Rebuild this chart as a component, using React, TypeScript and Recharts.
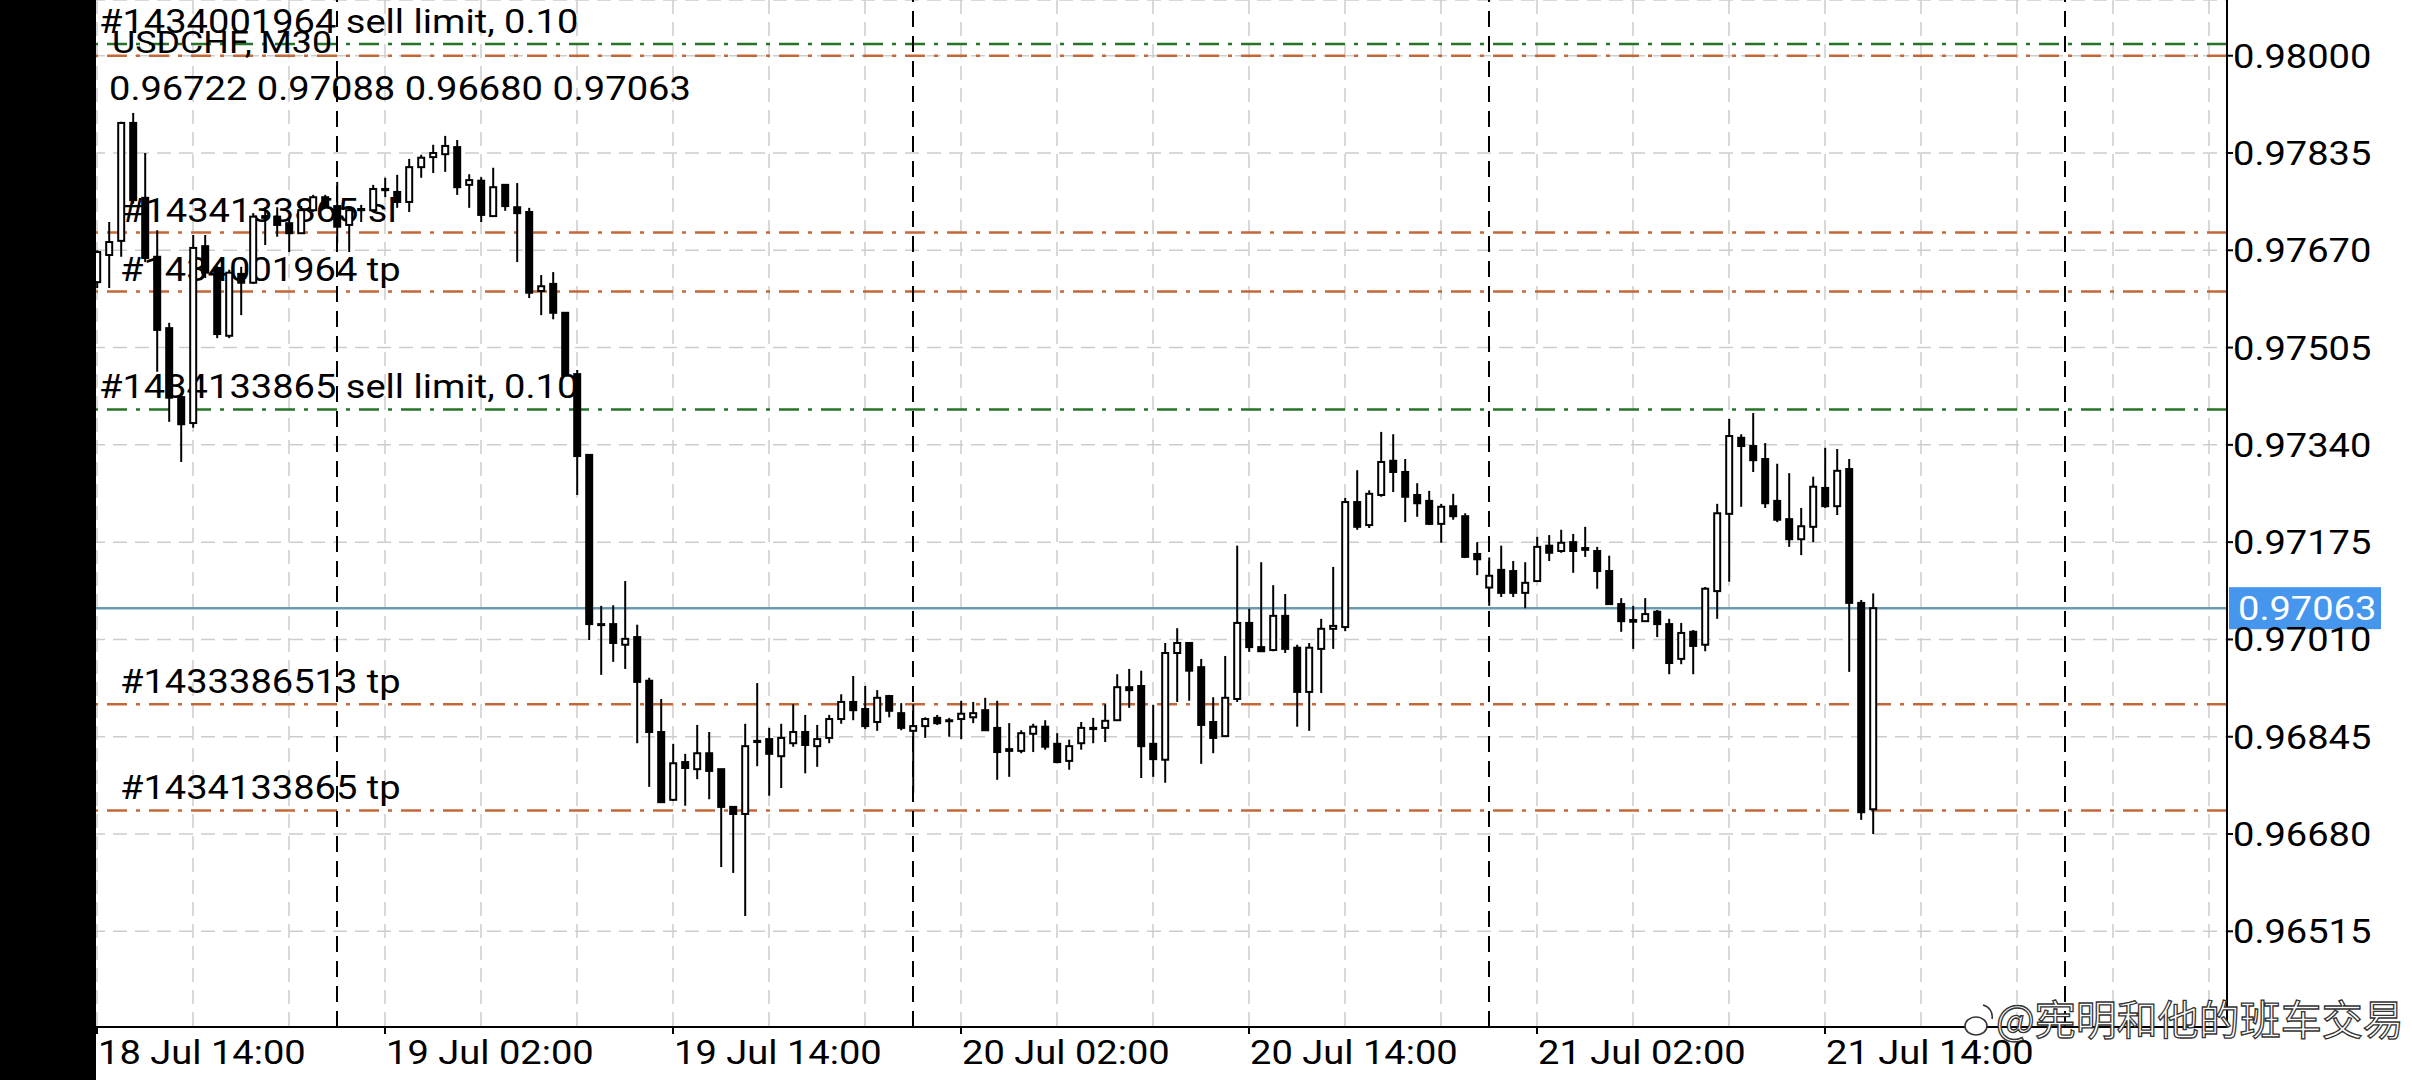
import React from "react";
import { Bar, CartesianGrid, ComposedChart, ReferenceLine, XAxis, YAxis } from "recharts";

const W = 2412;
const H = 1080;
const PLOT_LEFT = 91; // first bar sits half under the black strip
const Y_AXIS_W = 185;
const X_AXIS_H = 53;
const AXIS_Y = H - X_AXIS_H;
const SLOTS = 178; // bars + empty chart shift on the right

const FONT = "Roboto, 'Noto Sans', sans-serif";
const FONT_SIZE = 34;
const STRETCH = 1.12;
const GREEN = "#277327";
const ORANGE = "#c4683a";
const PRICE_BLUE = "#6a9bb3";
const TAG_BLUE = "#4696ee";

// USDCHF M30, first bar = 18 Jul 14:00
const opens = [
  0.97616, 0.97662, 0.97686, 0.97886, 0.97759, 0.97659, 0.97538, 0.97421, 0.97377, 0.97677,
  0.9764, 0.97525, 0.9763, 0.97615, 0.97725, 0.97727, 0.97716, 0.97699, 0.97738, 0.9776,
  0.97745, 0.97713, 0.9774, 0.97738, 0.97772, 0.97769, 0.97752, 0.97811, 0.97828, 0.97833,
  0.97845, 0.97781, 0.97788, 0.97728, 0.97781, 0.97743, 0.97735, 0.97601, 0.97613, 0.97564,
  0.9746, 0.97323, 0.97036, 0.97036, 0.97001, 0.97014, 0.9694, 0.96853, 0.96738, 0.96802,
  0.9679, 0.96817, 0.9679, 0.96726, 0.96714, 0.96838, 0.96841, 0.96812, 0.96834, 0.96853,
  0.96829, 0.96843, 0.96875, 0.96904, 0.96892, 0.9687, 0.96914, 0.96885, 0.96855, 0.96863,
  0.96877, 0.96873, 0.96875, 0.96878, 0.9689, 0.9686, 0.96824, 0.96821, 0.9685, 0.96862,
  0.96833, 0.96804, 0.96834, 0.9686, 0.9686, 0.96873, 0.96929, 0.96931, 0.96833, 0.96806,
  0.96987, 0.97004, 0.96963, 0.9687, 0.96846, 0.96909, 0.97038, 0.96997, 0.96992, 0.9705,
  0.96996, 0.96921, 0.96994, 0.97028, 0.97031, 0.97243, 0.97204, 0.97255, 0.97313, 0.97294,
  0.97255, 0.97245, 0.97206, 0.97236, 0.97219, 0.97155, 0.97098, 0.97128, 0.97126, 0.97089,
  0.97109, 0.97169, 0.9716, 0.97175, 0.97165, 0.9716, 0.97126, 0.9707, 0.97043, 0.97041,
  0.97057, 0.97036, 0.96977, 0.97023, 0.97001, 0.97092, 0.97223, 0.97352, 0.97338, 0.97316,
  0.97245, 0.97214, 0.9718, 0.97201, 0.97267, 0.97236, 0.97299, 0.97072, 0.96722,
];
const highs = [
  0.9767, 0.97718, 0.97888, 0.97903, 0.97835, 0.97704, 0.97547, 0.97428, 0.97696, 0.97696,
  0.97643, 0.97637, 0.97642, 0.97733, 0.97743, 0.97743, 0.97723, 0.97745, 0.97764, 0.97764,
  0.97786, 0.97745, 0.97747, 0.97781, 0.97793, 0.97798, 0.97825, 0.97832, 0.97849, 0.97864,
  0.97857, 0.97799, 0.97794, 0.9781, 0.97782, 0.97784, 0.97742, 0.97628, 0.97633, 0.97565,
  0.97467, 0.97323, 0.97067, 0.97068, 0.97109, 0.97035, 0.96945, 0.96909, 0.96833, 0.96816,
  0.96865, 0.96853, 0.9679, 0.96726, 0.96867, 0.96936, 0.9686, 0.96867, 0.969, 0.96882,
  0.96865, 0.96882, 0.96917, 0.96948, 0.96931, 0.96924, 0.96916, 0.96902, 0.969, 0.96878,
  0.96882, 0.96877, 0.96906, 0.96904, 0.96911, 0.96906, 0.96868, 0.96856, 0.96867, 0.96873,
  0.96851, 0.9684, 0.9687, 0.96877, 0.969, 0.96951, 0.9696, 0.96957, 0.96899, 0.97004,
  0.97029, 0.97004, 0.96977, 0.96912, 0.96982, 0.97169, 0.97062, 0.97141, 0.97102, 0.97087,
  0.97001, 0.97004, 0.97045, 0.97133, 0.9725, 0.97297, 0.97263, 0.97362, 0.97358, 0.97316,
  0.97275, 0.97262, 0.9724, 0.97257, 0.97224, 0.97175, 0.97149, 0.97169, 0.97143, 0.97141,
  0.97184, 0.97187, 0.97196, 0.97189, 0.97201, 0.97167, 0.97152, 0.9708, 0.97067, 0.9708,
  0.9706, 0.97045, 0.97038, 0.97026, 0.97099, 0.9724, 0.97384, 0.97358, 0.97394, 0.97343,
  0.97308, 0.97292, 0.97233, 0.97286, 0.97335, 0.97333, 0.97316, 0.97077, 0.97088,
];
const lows = [
  0.97606, 0.97606, 0.97659, 0.97749, 0.9765, 0.97464, 0.97379, 0.97311, 0.97369, 0.97623,
  0.97521, 0.97521, 0.9756, 0.97613, 0.97679, 0.97693, 0.97667, 0.97698, 0.97735, 0.97742,
  0.97682, 0.97667, 0.97718, 0.97735, 0.9776, 0.97742, 0.97735, 0.97793, 0.97801, 0.97803,
  0.97764, 0.97742, 0.97718, 0.97727, 0.97737, 0.9765, 0.97589, 0.9756, 0.97553, 0.97457,
  0.97255, 0.97009, 0.9695, 0.96972, 0.9696, 0.96834, 0.9676, 0.96733, 0.96736, 0.96728,
  0.96773, 0.96739, 0.96624, 0.96614, 0.96541, 0.96795, 0.96745, 0.96758, 0.96828, 0.96783,
  0.96794, 0.96834, 0.96867, 0.96873, 0.96858, 0.96855, 0.96878, 0.96856, 0.9675, 0.96843,
  0.96865, 0.96845, 0.96841, 0.96868, 0.96855, 0.96772, 0.96777, 0.96817, 0.96819, 0.96823,
  0.968, 0.96789, 0.96823, 0.96834, 0.96836, 0.96872, 0.96894, 0.96775, 0.96777, 0.96767,
  0.96904, 0.96906, 0.96799, 0.96817, 0.96845, 0.96904, 0.96989, 0.96989, 0.9699, 0.96987,
  0.96862, 0.96855, 0.96919, 0.96994, 0.97024, 0.97196, 0.97199, 0.97252, 0.9726, 0.97209,
  0.97218, 0.97204, 0.97174, 0.97213, 0.97148, 0.97119, 0.97067, 0.97082, 0.97082, 0.97063,
  0.97108, 0.97143, 0.97157, 0.97123, 0.9715, 0.97096, 0.9707, 0.97023, 0.96994, 0.9704,
  0.97014, 0.96951, 0.96968, 0.96951, 0.9699, 0.97045, 0.97108, 0.97235, 0.97294, 0.97233,
  0.97209, 0.97167, 0.97153, 0.97175, 0.97233, 0.97221, 0.96955, 0.96704, 0.9668,
];
const closes = [
  0.97667, 0.97684, 0.97886, 0.97755, 0.97657, 0.97535, 0.9742, 0.97375, 0.97674, 0.97632,
  0.97528, 0.97632, 0.97615, 0.97727, 0.97728, 0.97713, 0.97699, 0.97738, 0.9776, 0.97743,
  0.9771, 0.97738, 0.97738, 0.97774, 0.97774, 0.97752, 0.97811, 0.97827, 0.97835, 0.97847,
  0.97777, 0.97789, 0.9773, 0.97777, 0.97745, 0.97733, 0.97598, 0.97609, 0.97564, 0.97458,
  0.97321, 0.97036, 0.97035, 0.97004, 0.97011, 0.96938, 0.96853, 0.96734, 0.968, 0.96792,
  0.96817, 0.96787, 0.96726, 0.96714, 0.96829, 0.96836, 0.96816, 0.96843, 0.96853, 0.96831,
  0.96841, 0.96875, 0.96904, 0.9689, 0.96863, 0.96911, 0.96889, 0.9686, 0.96863, 0.96875,
  0.96868, 0.96872, 0.96884, 0.96885, 0.96856, 0.96819, 0.96821, 0.96851, 0.96862, 0.96828,
  0.96802, 0.96829, 0.9686, 0.96858, 0.96872, 0.96929, 0.96924, 0.96829, 0.96807, 0.96987,
  0.97004, 0.96957, 0.96865, 0.96843, 0.96911, 0.97038, 0.96997, 0.9699, 0.9705, 0.96994,
  0.96921, 0.96996, 0.97028, 0.97033, 0.97243, 0.97201, 0.97257, 0.97311, 0.97294, 0.97252,
  0.97241, 0.97206, 0.97235, 0.97219, 0.9715, 0.97146, 0.97118, 0.97089, 0.97089, 0.97106,
  0.97167, 0.97157, 0.97174, 0.9716, 0.97162, 0.97126, 0.9707, 0.97041, 0.9704, 0.97053,
  0.97036, 0.9697, 0.97021, 0.96999, 0.97096, 0.97224, 0.97355, 0.97338, 0.97314, 0.97241,
  0.97213, 0.9718, 0.97202, 0.97269, 0.97236, 0.97296, 0.97072, 0.96717, 0.97063,
];

const priceDomain = [0.963527, 0.980945];
const priceTicks = [0.98, 0.97835, 0.9767, 0.97505, 0.9734, 0.97175, 0.9701, 0.96845, 0.9668, 0.96515];
const timeTickBars = [0, 24, 48, 72, 96, 120, 144];
const timeTickLabels = [
  "18 Jul 14:00",
  "19 Jul 02:00",
  "19 Jul 14:00",
  "20 Jul 02:00",
  "20 Jul 14:00",
  "21 Jul 02:00",
  "21 Jul 14:00",
];
const gridBars = [0, 8, 16, 24, 32, 40, 48, 56, 64, 72, 80, 88, 96, 104, 112, 120, 128, 136, 144, 152, 160, 168, 176];
const daySeparatorBars = [20, 68, 116, 164];

const orderLines = [
  { price: 0.9802, color: GREEN, text: "#1434001964 sell limit, 0.10", dx: 8 },
  { price: 0.98, color: ORANGE, text: "", dx: 0 },
  { price: 0.977, color: ORANGE, text: "#1434133865 sl", dx: 30 },
  { price: 0.976, color: ORANGE, text: "#1434001964 tp", dx: 29 },
  { price: 0.974, color: GREEN, text: "#1434133865 sell limit, 0.10", dx: 8 },
  { price: 0.969, color: ORANGE, text: "#1433386513 tp", dx: 29 },
  { price: 0.9672, color: ORANGE, text: "#1434133865 tp", dx: 29 },
];
const lastPrice = 0.97063;
const symbolLabel = "USDCHF, M30";
const ohlcLabel = "0.96722 0.97088 0.96680 0.97063";
const watermark = "@宪明和他的班车交易";

const rows = Array.from({ length: SLOTS }, (_, k) =>
  k < opens.length
    ? { k, range: [lows[k], highs[k]], o: opens[k], h: highs[k], l: lows[k], c: closes[k] }
    : { k, range: null }
);

function SText({ x, y, size = FONT_SIZE, fill = "#000", children }: any) {
  return (
    <text
      transform={`translate(${x} ${y}) scale(${STRETCH} 1)`}
      fontFamily={FONT}
      fontSize={size}
      fill={fill}
    >
      {children}
    </text>
  );
}

function Candle(props: any) {
  const { x, y, width, height, payload } = props;
  if (!payload || payload.o == null) return <g />;
  const { o, h, l, c } = payload;
  const cx = x + width / 2;
  const k = h > l ? height / (h - l) : 0;
  const py = (v: number) => y + (h - v) * k;
  const top = py(Math.max(o, c));
  const bot = py(Math.min(o, c));
  const up = c > o;
  return (
    <g>
      <line x1={cx} x2={cx} y1={y} y2={y + height} stroke="#000" strokeWidth={2} />
      {up ? (
        <rect x={cx - 3} y={top} width={6} height={Math.max(bot - top, 1)} fill="#fff" stroke="#000" strokeWidth={2} />
      ) : (
        <rect x={cx - 4} y={top - 1} width={8} height={Math.max(bot - top, 1) + 2} fill="#000" />
      )}
    </g>
  );
}

function TimeTick(props: any) {
  const { x, payload } = props;
  const i = timeTickBars.indexOf(Number(payload.value));
  if (i < 0) return <g />;
  return (
    <g>
      <line x1={x} x2={x} y1={AXIS_Y} y2={AXIS_Y + 7} stroke="#000" strokeWidth={2} />
      <SText x={x + 1} y={AXIS_Y + 37}>
        {timeTickLabels[i]}
      </SText>
    </g>
  );
}

function PriceTick(props: any) {
  const { x, y, payload } = props;
  return (
    <SText x={x} y={y + 12}>
      {Number(payload.value).toFixed(5)}
    </SText>
  );
}

function OrderLabel({ viewBox, text, dx }: any) {
  if (!viewBox || !text) return <g />;
  return (
    <SText x={viewBox.x + dx} y={viewBox.y - 11}>
      {text}
    </SText>
  );
}

function PriceTag({ viewBox }: any) {
  if (!viewBox) return <g />;
  const right = viewBox.x + viewBox.width;
  return (
    <g>
      <rect x={right + 2} y={viewBox.y - 21} width={152} height={42} fill={TAG_BLUE} />
      <SText x={right + 11} y={viewBox.y + 12} fill="#fff">
        {lastPrice.toFixed(5)}
      </SText>
    </g>
  );
}

export default function App() {
  return (
    <div style={{ position: "absolute", left: 0, top: 0, width: W, height: H, background: "#fff", overflow: "hidden" }}>
      <ComposedChart width={W} height={H} data={rows} margin={{ top: 0, right: 0, bottom: 0, left: PLOT_LEFT }}>
        <CartesianGrid stroke="#cdcdcd" strokeWidth={1.5} strokeDasharray="14 8" />
        <XAxis
          dataKey="k"
          type="category"
          ticks={gridBars}
          interval={0}
          height={X_AXIS_H}
          tick={<TimeTick />}
          tickLine={false}
          tickSize={0}
          axisLine={{ stroke: "#000", strokeWidth: 2 }}
        />
        <YAxis
          orientation="right"
          type="number"
          domain={priceDomain}
          allowDataOverflow
          ticks={priceTicks}
          interval={0}
          width={Y_AXIS_W}
          tick={<PriceTick />}
          tickSize={6}
          tickMargin={0}
          tickLine={{ stroke: "#000", strokeWidth: 2 }}
          axisLine={{ stroke: "#000", strokeWidth: 2 }}
        />
        {orderLines.map((ln) => (
          <ReferenceLine
            key={ln.price}
            y={ln.price}
            stroke={ln.color}
            strokeWidth={2.5}
            strokeDasharray="20 9 4 9"
            label={<OrderLabel text={ln.text} dx={ln.dx} />}
          />
        ))}
        <ReferenceLine y={lastPrice} stroke={PRICE_BLUE} strokeWidth={2.5} label={<PriceTag />} />
        {daySeparatorBars.map((b) => (
          <ReferenceLine key={b} x={b} stroke="#000" strokeWidth={2} strokeDasharray="16 9" />
        ))}
        <Bar dataKey="range" shape={(p: any) => <Candle {...p} />} isAnimationActive={false} zIndex={2500} />
      </ComposedChart>

      <svg width={W} height={H} style={{ position: "absolute", left: 0, top: 0, pointerEvents: "none" }}>
        <SText x={112} y={53} size={32}>
          {symbolLabel}
        </SText>
        <SText x={109} y={100}>
          {ohlcLabel}
        </SText>
        <g stroke="#333" strokeWidth={1.6} fill="#fff">
          <ellipse cx={1976} cy={1026} rx={11} ry={9} />
          <path d="M1983 1005 a12 12 0 0 1 9 14" fill="none" />
        </g>
        <text
          x={1996}
          y={1035}
          fontFamily="'Noto Sans CJK SC', sans-serif"
          fontSize={41}
          fill="#fff"
          stroke="#333"
          strokeWidth={1.3}
        >
          {watermark}
        </text>
      </svg>

      <div style={{ position: "absolute", left: 0, top: 0, width: 96, height: H, background: "#000" }} />
    </div>
  );
}
